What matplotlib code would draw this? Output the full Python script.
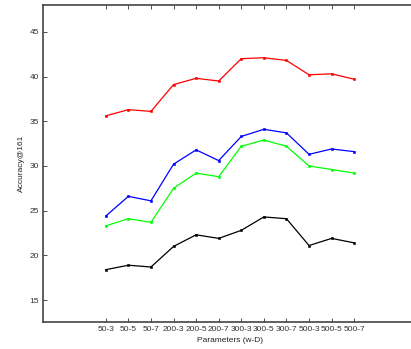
import matplotlib
matplotlib.use("Agg")
import matplotlib.pyplot as plt

params = ["50-3", "50-5", "50-7", "200-3", "200-5", "200-7",
          "300-3", "300-5", "300-7", "500-3", "500-5", "500-7"]

red = [35.6, 36.3, 36.1, 39.1, 39.8, 39.5, 42.0, 42.1, 41.8, 40.2, 40.3, 39.7]
blue = [24.4, 26.6, 26.1, 30.2, 31.8, 30.6, 33.3, 34.1, 33.7, 31.3, 31.9, 31.6]
green = [23.3, 24.1, 23.7, 27.5, 29.2, 28.8, 32.2, 32.9, 32.2, 30.0, 29.6, 29.2]
black = [18.4, 18.9, 18.7, 21.0, 22.3, 21.9, 22.8, 24.3, 24.1, 21.1, 21.9, 21.4]

plt.rcParams["font.family"] = ["Liberation Sans", "DejaVu Sans"]

W, H = 411, 349
fig = plt.figure(figsize=(W / 100, H / 100), dpi=100)
fig.patch.set_facecolor("white")

# axes runs off the right edge, like the cropped original
ax = fig.add_axes([43 / W, 27 / H, 374 / W, 317 / H])

x = list(range(len(params)))
for series, color in [(red, "#ff0000"), (blue, "#0000ff"),
                      (green, "#00ff00"), (black, "#000000")]:
    ax.plot(x, series, color=color, linewidth=0.9, marker="s",
            markersize=1.8, markeredgewidth=0.4)

ax.set_xlim(-2.78, 13.78)
ax.set_ylim(12.55, 48.0)
ax.set_xticks(x)
ax.set_xticklabels(params)
ax.set_yticks([15, 20, 25, 30, 35, 40, 45])

ax.tick_params(direction="in", length=3, width=0.6, labelsize=6,
               colors="#333333", top=True, right=False, pad=3)
for spine in ax.spines.values():
    spine.set_color("#444444")
    spine.set_linewidth(1.2)

ax.set_xlabel("Parameters (w-D)", fontsize=6, color="#222222", labelpad=3)
ax.set_ylabel("Accuracy@161", fontsize=6, color="#222222", labelpad=3)

fig.savefig("out.png", dpi=100)
